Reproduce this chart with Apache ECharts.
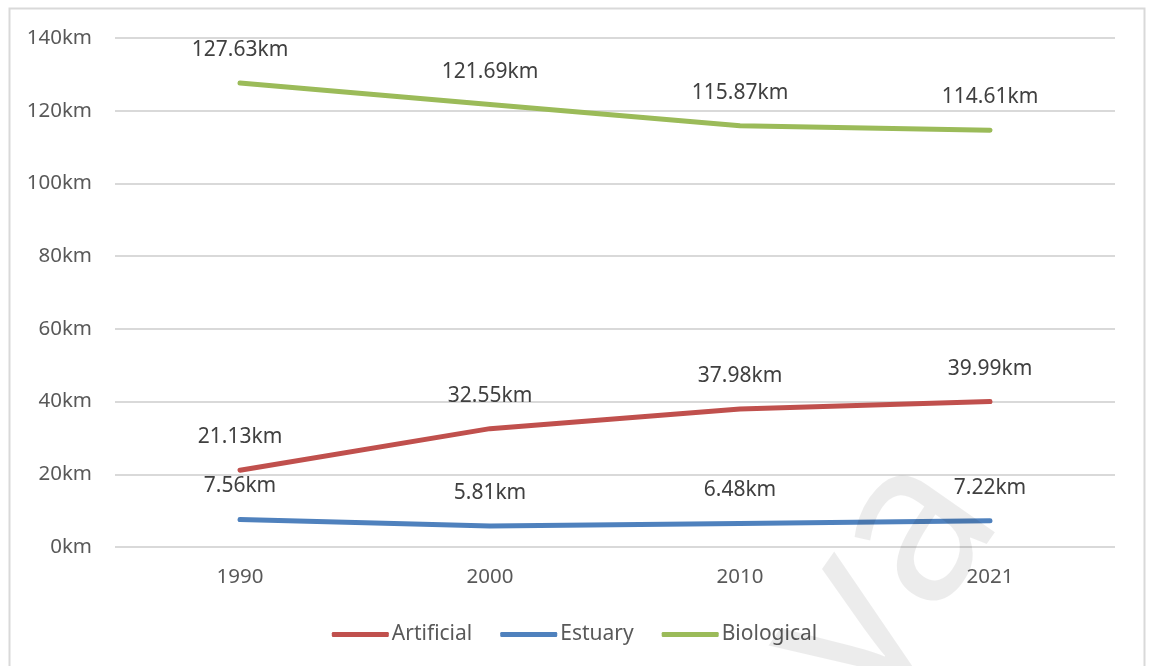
<!DOCTYPE html>
<html>
<head>
<meta charset="utf-8">
<title>Coastline length by type</title>
<script src="https://cdn.jsdelivr.net/npm/echarts@6/dist/echarts.min.js"></script>
<style>
  html, body { margin: 0; padding: 0; background: #ffffff; }
  #chart { width: 1149px; height: 666px; }
</style>
</head>
<body>
<div id="chart"></div>
<script>
// Coastline length (km) by coast type
const years = ['1990', '2000', '2010', '2021'];
const artificial = [21.13, 32.55, 37.98, 39.99];
const estuary = [7.56, 5.81, 6.48, 7.22];
const biological = [127.63, 121.69, 115.87, 114.61];
const yTicks = { min: 0, max: 140, interval: 20 };

const FONT = '"Noto Sans", "Liberation Sans", sans-serif';

function lineSeries(name, data, color) {
  return {
    name: name,
    type: 'line',
    data: data,
    symbol: 'circle',
    symbolSize: 1,
    showSymbol: true,
    itemStyle: { color: color },
    lineStyle: { color: color, width: 5, cap: 'round', join: 'round' },
    label: {
      show: true,
      position: 'top',
      distance: 22,
      color: '#404040',
      fontFamily: FONT,
      fontSize: 21,
      formatter: p => p.value.toFixed(2) + 'km'
    },
    emphasis: { disabled: true },
    animation: false
  };
}

const chart = echarts.init(document.getElementById('chart'), null, { renderer: 'canvas' });
chart.setOption({
  backgroundColor: '#ffffff',
  animation: false,
  grid: { left: 115, right: 34, top: 38, bottom: 119, containLabel: false },
  xAxis: {
    type: 'category',
    data: years,
    boundaryGap: true,
    axisLine: { show: false },
    axisTick: { show: false },
    axisLabel: { color: '#595959', fontFamily: FONT, fontSize: 20.5, margin: 20 }
  },
  yAxis: {
    type: 'value',
    min: yTicks.min,
    max: yTicks.max,
    interval: yTicks.interval,
    axisLine: { show: false },
    axisTick: { show: false },
    splitLine: { lineStyle: { color: '#d9d9d9', width: 2 } },
    axisLabel: {
      color: '#595959', fontFamily: FONT, fontSize: 20.5, margin: 23,
      formatter: v => v + 'km'
    }
  },
  legend: {
    data: ['Artificial', 'Estuary', 'Biological'],
    left: 'center',
    top: 619,
    icon: 'roundRect',
    itemWidth: 57,
    itemHeight: 5,
    itemGap: 28,
    textStyle: { color: '#595959', fontFamily: FONT, fontSize: 21, padding: [0, 0, 0, -2] }
  },
  series: [
    lineSeries('Artificial', artificial, '#C0504D'),
    lineSeries('Estuary', estuary, '#4F81BD'),
    lineSeries('Biological', biological, '#9BBB59')
  ],
  graphic: [
    {
      type: 'rect',
      silent: true,
      z: -10,
      shape: { x: 9.5, y: 8.5, width: 1135, height: 720 },
      style: { fill: 'none', stroke: '#d9d9d9', lineWidth: 2 }
    },
    {
      type: 'text',
      silent: true,
      z: 100,
      x: 1045,
      y: 545,
      rotation: 0.96,
      style: {
        text: 'Malaya',
        fontFamily: FONT,
        fontSize: 225,
        fill: 'rgba(0,0,0,0.075)',
        textAlign: 'right',
        textVerticalAlign: 'bottom'
      }
    }
  ]
});
</script>
</body>
</html>
